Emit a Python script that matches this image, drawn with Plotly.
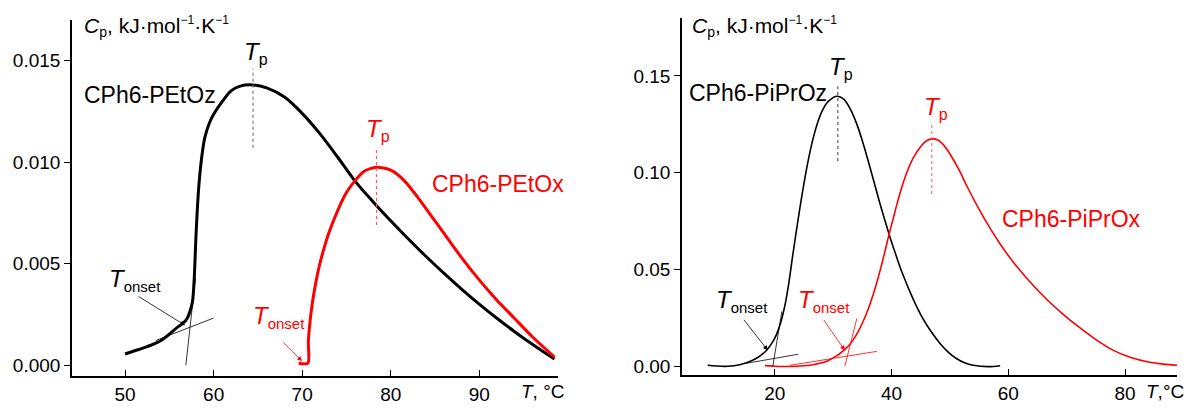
import plotly.graph_objects as go

# ---------------- data ----------------
# Left panel: CPh6-PEtOz (black) and CPh6-PEtOx (red); T in degC, Cp in kJ/(mol K)
petoz_T = [50, 51, 52, 53, 54, 55, 56, 56.5, 57, 57.3, 57.6, 57.8, 58.0, 58.2, 58.4, 58.7,
           59.0, 59.5, 60, 61, 62, 63, 64.4, 66, 68, 70, 72, 74, 76, 78, 80, 82, 84, 86,
           88, 90, 92, 94, 96, 98.5]
petoz_Cp = [0.00055, 0.0007, 0.00084, 0.001, 0.0012, 0.00153, 0.0019, 0.00205, 0.0023,
            0.00262, 0.0031, 0.0042, 0.0063, 0.0080, 0.0092, 0.0104, 0.0112, 0.0119,
            0.01235, 0.0130, 0.01352, 0.01374, 0.0138, 0.01365, 0.0132, 0.0124, 0.0114,
            0.01025, 0.00905, 0.00805, 0.00711, 0.00621, 0.00535, 0.00453, 0.00375,
            0.00301, 0.00231, 0.00165, 0.00103, 0.0003]

petox_T = [69.6, 70.65, 70.7, 71.1, 71.6, 72.0, 72.5, 73.0, 74.0, 75.0, 76.0, 77.0, 78.4,
           80, 81.5, 83, 84.5, 86, 88, 90, 92, 94, 96, 98.5]
petox_Cp = [0.0001, 0.0001, 0.0012, 0.0029, 0.0042, 0.0050, 0.0058, 0.0065, 0.0076,
            0.0085, 0.0091, 0.00955, 0.00975, 0.0096, 0.0091, 0.0083, 0.0074, 0.0065,
            0.0053, 0.0042, 0.0032, 0.0023, 0.0014, 0.0004]

# Right panel: CPh6-PiPrOz (black) and CPh6-PiPrOx (red)
piproz_T = [8.5, 10, 12, 14, 15.7, 17.2, 18.6, 19.6, 20.3, 21.0, 21.7, 22.4, 23.1, 24.0,
            24.8, 25.7, 26.5, 27.4, 28.2, 29.2, 30.7, 31.8, 33.0, 34.0, 35.2, 36.3, 37.2,
            38.0, 38.8, 39.6, 40.5, 41.4, 42.3, 43.1, 44.2, 45.4, 46.8, 48.3, 49.7, 51.1,
            52.5, 54, 56.5, 58.6]
piproz_Cp = [0.0005, 0.0001, 0.0, 0.0008, 0.0024, 0.0048, 0.0083, 0.0125, 0.0165, 0.0225,
             0.031, 0.043, 0.058, 0.076, 0.091, 0.106, 0.117, 0.1265, 0.1325, 0.137,
             0.1395, 0.138, 0.1325, 0.1255, 0.1145, 0.1028, 0.0930, 0.0842, 0.0760,
             0.0680, 0.0597, 0.0517, 0.0447, 0.0388, 0.0315, 0.0245, 0.0178, 0.0118,
             0.0073, 0.0040, 0.0018, 0.0005, -0.0002, 0.0003]

piprox_T = [18.3, 20, 22, 24.3, 26.5, 28.9, 30.5, 31.7, 32.6, 33.4, 34.3, 35.1, 36.0, 36.8,
            37.5, 38.3, 39.0, 39.6, 40.3, 40.9, 41.7, 42.6, 43.7, 45.0, 46.0, 47.0, 48.0,
            49.0, 50, 51.5, 53, 55, 57, 58.6, 60.8, 63.5, 66.6, 69.5, 72.3, 75, 78, 81,
            84, 86.5, 88.9]
piprox_Cp = [0.0003, 0.0, -0.0001, 0.0001, 0.0008, 0.0026, 0.0052, 0.0080, 0.0105,
             0.0135, 0.018, 0.023, 0.0295, 0.0365, 0.0435, 0.0525, 0.061, 0.0685, 0.0765,
             0.0835, 0.092, 0.100, 0.1075, 0.1135, 0.1165, 0.1175, 0.1168, 0.1140,
             0.1097, 0.1018, 0.0925, 0.0811, 0.0707, 0.0632, 0.0540, 0.0443, 0.0345,
             0.0266, 0.0198, 0.0138, 0.0082, 0.0045, 0.0022, 0.0011, 0.0005]

left_xticks = [50, 60, 70, 80, 90]
left_yticks = [0.0, 0.005, 0.010, 0.015]
right_xticks = [20, 40, 60, 80]
right_yticks = [0.0, 0.05, 0.10, 0.15]

series_labels = ["CPh6-PEtOz", "CPh6-PEtOx", "CPh6-PiPrOz", "CPh6-PiPrOx"]
ytitle = ("<i>C</i><sub><span style='font-size:14px'>p</span></sub>, kJ·mol"
          "<sup><span style='font-size:12px'>−1</span></sup>·K"
          "<sup><span style='font-size:12px'>−1</span></sup>")

# ---------------- figure ----------------
FONT = "Liberation Sans, Arial, sans-serif"
RED = "#ff0000"
BLACK = "#000000"

fig = go.Figure()
fig.add_trace(go.Scatter(x=petoz_T, y=petoz_Cp, mode="lines", xaxis="x", yaxis="y",
                         line=dict(color=BLACK, width=3, shape="spline", smoothing=0.9)))
fig.add_trace(go.Scatter(x=petox_T, y=petox_Cp, mode="lines", xaxis="x", yaxis="y",
                         line=dict(color=RED, width=3, shape="spline", smoothing=0.7)))
fig.add_trace(go.Scatter(x=piproz_T, y=piproz_Cp, mode="lines", xaxis="x2", yaxis="y2",
                         line=dict(color=BLACK, width=1.6, shape="spline", smoothing=1.0)))
fig.add_trace(go.Scatter(x=piprox_T, y=piprox_Cp, mode="lines", xaxis="x2", yaxis="y2",
                         line=dict(color=RED, width=1.6, shape="spline", smoothing=1.0)))

shapes = []
def seg(xr, yr, x0, y0, x1, y1, color, width=0.8, dash="solid"):
    shapes.append(dict(type="line", xref=xr, yref=yr, x0=x0, y0=y0, x1=x1, y1=y1,
                       line=dict(color=color, width=width, dash=dash)))

# left panel tangents and Tp markers
seg("x", "y", 53.5, 0.00122, 60.0, 0.00232, BLACK)
seg("x", "y", 56.86, 0.0, 57.95, 0.0043, BLACK)
seg("x", "y", 64.45, 0.0107, 64.45, 0.0146, "#777777", 1.2, "3px,3px")
seg("x", "y", 78.4, 0.0069, 78.4, 0.0107, "#ff5a5a", 1.2, "3px,3px")
# right panel tangents and Tp markers
seg("x2", "y2", 15.1, 0.0015, 24.0, 0.0062, BLACK)
seg("x2", "y2", 19.66, 0.0, 21.2, 0.0283, BLACK)
seg("x2", "y2", 22.6, 0.0005, 37.5, 0.0077, RED)
seg("x2", "y2", 32.0, 0.0, 34.05, 0.0247, RED)
seg("x2", "y2", 30.8, 0.106, 30.8, 0.1447, "#333333", 1.0, "3px,3px")
seg("x2", "y2", 46.9, 0.089, 46.9, 0.125, "#ff5a5a", 1.0, "3px,3px")

ann = []
def text(x, y, s, size, color=BLACK, xanchor="center", yanchor="middle"):
    ann.append(dict(xref="paper", yref="paper", x=x / 1192, y=1 - y / 408, text=s,
                    showarrow=False, xanchor=xanchor, yanchor=yanchor,
                    font=dict(family=FONT, size=size, color=color)))

def arrow(xr, yr, x, y, ax, ay, color):
    ann.append(dict(xref=xr, yref=yr, x=x, y=y, axref=xr, ayref=yr, ax=ax, ay=ay,
                    text="", showarrow=True, arrowhead=2, arrowsize=1.2, arrowwidth=0.8,
                    arrowcolor=color, standoff=0))

# axis titles
text(82, 27, ytitle, 21, xanchor="left")
text(690, 27, ytitle, 21, xanchor="left")
text(567, 393, "<i>T</i>, °C", 19, xanchor="right")
text(1186, 393, "<i>T</i>,°C", 19, xanchor="right")

# series labels
text(82, 95, series_labels[0], 23, xanchor="left")
text(430, 185, series_labels[1], 23, RED, xanchor="left")
text(687, 93, series_labels[2], 23, xanchor="left")
text(1000, 220, series_labels[3], 23, RED, xanchor="left")

# Tp labels
tp = "<i>T</i><sub><span style='font-size:16px'>p</span></sub>"
text(256, 53, tp, 24)
text(378, 131, tp, 24, RED)
text(841, 68, tp, 24)
text(936, 109, tp, 24, RED)

# T onset labels
ton = "<i>T</i><sub><span style='font-size:15px'>onset</span></sub>"
text(135, 281, ton, 24)
text(279, 319, ton, 24, RED)
text(742, 302, ton, 24)
text(824, 302, ton, 24, RED)

# leader arrows
arrow("x", "y", 56.77, 0.00196, 51.35, 0.00343, BLACK)
arrow("x", "y", 69.98, 0.0002, 67.72, 0.00118, RED)
arrow("x2", "y2", 18.8, 0.0082, 14.52, 0.0247, BLACK)
arrow("x2", "y2", 32.0, 0.0082, 28.2, 0.0247, RED)

axis_common = dict(showline=True, linecolor=BLACK, linewidth=1.6, showgrid=False,
                   zeroline=False, tickcolor=BLACK, tickwidth=1.4, ticklen=6,
                   tickfont=dict(family=FONT, size=19, color=BLACK), mirror=False)

fig.update_layout(
    width=1192, height=408,
    margin=dict(l=0, r=0, t=0, b=0),
    paper_bgcolor="white", plot_bgcolor="white",
    showlegend=False,
    xaxis=dict(domain=[72 / 1192, 558 / 1192], range=[44.0, 98.9], anchor="y",
               tickvals=left_xticks, ticks="inside", **axis_common),
    yaxis=dict(domain=[1 - 378 / 408, 1 - 20 / 408], range=[-0.00054, 0.017], anchor="x",
               tickvals=left_yticks, tickformat=".3f", ticks="outside", **axis_common),
    xaxis2=dict(domain=[682 / 1192, 1177 / 1192], range=[4.1, 88.9], anchor="y2",
                tickvals=right_xticks, ticks="inside", **axis_common),
    yaxis2=dict(domain=[1 - 377 / 408, 1 - 18 / 408], range=[-0.0046, 0.180], anchor="x2",
                tickvals=right_yticks, tickformat=".2f", ticks="outside", **axis_common),
    shapes=shapes,
    annotations=ann,
)

fig.write_html("out.html")
